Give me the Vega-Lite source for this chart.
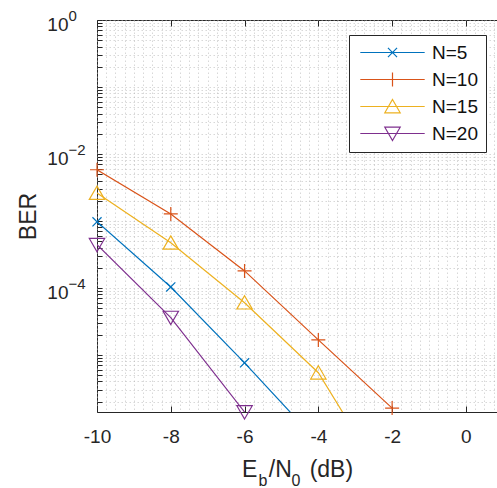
{
  "$schema": "https://vega.github.io/schema/vega-lite/v6.json",
  "autosize": "none",
  "padding": {"left": 97, "top": 20, "right": 0, "bottom": 76},
  "width": 401,
  "height": 392,
  "background": "white",
  "config": {
    "view": {"stroke": "#262626", "strokeWidth": 1},
    "font": "Liberation Sans"
  },
  "data": {
    "values": [
      {"snr": -10, "ber": 0.00097, "N": "N=5"},
      {"snr": -8, "ber": 0.000103, "N": "N=5"},
      {"snr": -6, "ber": 0.0000076, "N": "N=5"},
      {"snr": -4, "ber": 0.00000049, "N": "N=5"},
      {"snr": -10, "ber": 0.0058, "N": "N=10"},
      {"snr": -8, "ber": 0.00127, "N": "N=10"},
      {"snr": -6, "ber": 0.000179, "N": "N=10"},
      {"snr": -4, "ber": 0.0000167, "N": "N=10"},
      {"snr": -2, "ber": 0.0000016, "N": "N=10"},
      {"snr": -10, "ber": 0.0026, "N": "N=15"},
      {"snr": -8, "ber": 0.00047, "N": "N=15"},
      {"snr": -6, "ber": 0.00006, "N": "N=15"},
      {"snr": -4, "ber": 0.0000054, "N": "N=15"},
      {"snr": -2, "ber": 0.000000087, "N": "N=15"},
      {"snr": -10, "ber": 0.00044, "N": "N=20"},
      {"snr": -8, "ber": 0.000036, "N": "N=20"},
      {"snr": -6, "ber": 0.0000014, "N": "N=20"}
    ]
  },
  "resolve": {"axis": {"x": "independent", "y": "independent"}},
  "layer": [
    {
      "mark": {"type": "line", "clip": true, "strokeWidth": 1.2},
      "encoding": {
        "x": {
          "field": "snr", "type": "quantitative",
          "scale": {"domain": [-10, 0.87], "nice": false, "zero": false},
          "axis": {
            "orient": "bottom",
            "values": [-10, -9.75, -9.5, -9.25, -9, -8.75, -8.5, -8.25, -8, -7.75, -7.5, -7.25, -7, -6.75, -6.5, -6.25, -6, -5.75, -5.5, -5.25, -5, -4.75, -4.5, -4.25, -4, -3.75, -3.5, -3.25, -3, -2.75, -2.5, -2.25, -2, -1.75, -1.5, -1.25, -1, -0.75, -0.5, -0.25, 0, 0.25, 0.5, 0.75],
            "labelExpr": "datum.value % 2 === 0 ? '' + datum.value : ''",
            "labelFont": "Liberation Sans", "labelFontSize": 19, "labelColor": "#262626",
            "labelOverlap": false, "labelFlush": false, "labelBound": false, "labelPadding": 21,
            "domain": false,
            "grid": true, "gridColor": "#b4b4b4", "gridDash": [1.5, 2.5], "gridWidth": 0.8, "gridOpacity": 0.65,
            "tickColor": "#262626", "tickSize": -6,
            "tickOpacity": {"condition": {"test": "datum.value % 2 === 0", "value": 1}, "value": 0},
            "title": "E\u2002/N\u2002 (dB)",
            "titleFont": "Liberation Sans", "titleFontSize": 23, "titleFontWeight": "normal", "titleColor": "#262626",
            "titleX": 200, "titleY": 64, "titleBaseline": "alphabetic", "titleAlign": "center"
          }
        },
        "y": {
          "field": "ber", "type": "quantitative",
          "scale": {"type": "log", "domain": [0.0000014, 1], "nice": false},
          "axis": {
            "orient": "left",
            "values": [2e-6, 3e-6, 4e-6, 5e-6, 6e-6, 7e-6, 8e-6, 9e-6, 1e-5, 2e-5, 3e-5, 4e-5, 5e-5, 6e-5, 7e-5, 8e-5, 9e-5, 0.0001, 0.0002, 0.0003, 0.0004, 0.0005, 0.0006, 0.0007, 0.0008, 0.0009, 0.001, 0.002, 0.003, 0.004, 0.005, 0.006, 0.007, 0.008, 0.009, 0.01, 0.02, 0.03, 0.04, 0.05, 0.06, 0.07, 0.08, 0.09, 0.1, 0.2, 0.3, 0.4, 0.5, 0.6, 0.7, 0.8, 0.9, 1],
            "labelExpr": "datum.value === 1 || datum.value === 0.01 || datum.value === 0.0001 ? '10' : ''",
            "labelFont": "Liberation Sans", "labelFontSize": 19, "labelColor": "#262626",
            "labelOverlap": false, "labelFlush": false, "labelBound": false, "labelPadding": 34, "labelOffset": 4.5,
            "domain": false,
            "grid": true, "gridColor": "#b4b4b4", "gridDash": [1.5, 2.5], "gridWidth": 0.8, "gridOpacity": 0.65,
            "tickColor": "#262626", "tickSize": -5,
            "title": "BER",
            "titleFont": "Liberation Sans", "titleFontSize": 23, "titleFontWeight": "normal", "titleColor": "#262626",
            "titleX": -69, "titleY": 196, "titleBaseline": "middle", "titleAlign": "center", "titleAngle": 270
          }
        },
        "color": {
          "field": "N", "type": "nominal",
          "scale": {"domain": ["N=5", "N=10", "N=15", "N=20"], "range": ["#0072BD", "#D95319", "#EDB120", "#7E2F8E"]},
          "legend": {
            "orient": "none", "legendX": 252, "legendY": 15,
            "title": null,
            "labelFont": "Liberation Sans", "labelFontSize": 19, "labelColor": "#111111",
            "symbolSize": 196, "symbolStrokeWidth": 1.2, "symbolOffset": 26, "labelOffset": 30,
            "padding": 8, "rowPadding": 7,
            "fillColor": "white", "strokeColor": "#262626",
            "encode": {
              "symbols": {
                "update": {
                  "shape": {"signal": "datum.value === 'N=5' ? 'M-4.6,0H4.6M-0.65,-0.65L0.65,0.65M-0.65,0.65L0.65,-0.65' : datum.value === 'N=10' ? 'M-4.6,0H4.6M-1,0H1M0,-1V1' : datum.value === 'N=15' ? 'M-4.6,0H4.6M0,-1L1.1,0.9L-1.1,0.9Z' : 'M-4.6,0H4.6M0,1L1.1,-0.9L-1.1,-0.9Z'"},
                  "fill": {"value": "transparent"}
                }
              }
            }
          }
        }
      }
    },
    {
      "transform": [{"filter": "datum.N === 'N=5' && datum.ber >= 0.00000135"}],
      "mark": {"type": "point", "filled": false, "strokeWidth": 1.2, "size": 196, "color": "#0072BD", "opacity": 1, "shape": "M-0.65,-0.65L0.65,0.65M-0.65,0.65L0.65,-0.65"},
      "encoding": {
        "x": {
          "field": "snr", "type": "quantitative",
          "axis": {
            "orient": "top",
            "values": [-10, -8, -6, -4, -2, 0],
            "labels": false, "domain": false, "grid": false,
            "tickColor": "#262626", "tickSize": -6,
            "title": "b\u2003\u20020",
            "titleFont": "Liberation Sans", "titleFontSize": 16, "titleFontWeight": "normal", "titleColor": "#262626",
            "titleX": 182, "titleY": 465, "titleBaseline": "alphabetic", "titleAlign": "center"
          }
        },
        "y": {
          "field": "ber", "type": "quantitative",
          "axis": {
            "orient": "left",
            "values": [1, 0.01, 0.0001],
            "labelExpr": "datum.value === 1 ? '0' : datum.value === 0.01 ? '\u22122' : '\u22124'",
            "labelFont": "Liberation Sans", "labelFontSize": 15, "labelColor": "#262626",
            "labelAlign": "left", "labelBaseline": "middle",
            "labelOverlap": false, "labelFlush": false, "labelBound": false, "labelPadding": 29, "labelOffset": -4.5,
            "ticks": false, "domain": false, "grid": false, "title": null
          }
        }
      }
    },
    {
      "transform": [{"filter": "datum.N === 'N=10' && datum.ber >= 0.00000135"}],
      "mark": {"type": "point", "filled": false, "strokeWidth": 1.2, "size": 196, "color": "#D95319", "opacity": 1, "shape": "M-1,0H1M0,-1V1"},
      "encoding": {
        "x": {"field": "snr", "type": "quantitative", "axis": null},
        "y": {"field": "ber", "type": "quantitative", "axis": null}
      }
    },
    {
      "transform": [{"filter": "datum.N === 'N=15' && datum.ber >= 0.00000135"}],
      "mark": {"type": "point", "filled": false, "strokeWidth": 1.2, "size": 196, "color": "#EDB120", "opacity": 1, "shape": "M0,-1L1.1,0.9L-1.1,0.9Z"},
      "encoding": {
        "x": {"field": "snr", "type": "quantitative", "axis": null},
        "y": {"field": "ber", "type": "quantitative", "axis": null}
      }
    },
    {
      "transform": [{"filter": "datum.N === 'N=20' && datum.ber >= 0.00000135"}],
      "mark": {"type": "point", "filled": false, "strokeWidth": 1.2, "size": 196, "color": "#7E2F8E", "opacity": 1, "shape": "M0,1L1.1,-0.9L-1.1,-0.9Z"},
      "encoding": {
        "x": {"field": "snr", "type": "quantitative", "axis": null},
        "y": {"field": "ber", "type": "quantitative", "axis": null}
      }
    }
  ]
}
